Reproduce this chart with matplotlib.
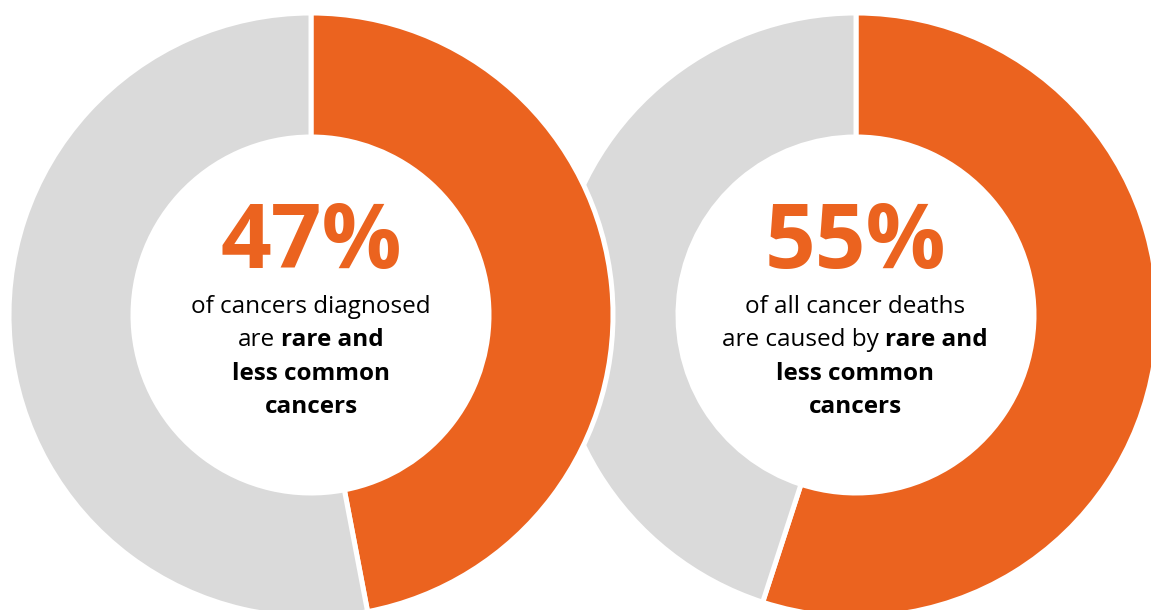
import matplotlib
matplotlib.use("Agg")
import matplotlib.pyplot as plt

plt.rcParams['font.family'] = ['Open Sans', 'DejaVu Sans']

# -------------------------------------------------------------
# Data
# -------------------------------------------------------------
shares_diagnosed = [47, 53]   # rare & less common, other
shares_deaths = [55, 45]
big_labels = ["47%", "55%"]
caption_left = [
    [("of cancers diagnosed", "normal")],
    [("are", "normal"), ("rare and", "bold")],
    [("less common", "bold")],
    [("cancers", "bold")],
]
caption_right = [
    [("of all cancer deaths", "normal")],
    [("are caused by", "normal"), ("rare and", "bold")],
    [("less common", "bold")],
    [("cancers", "bold")],
]

ORANGE = "#EB631F"
GREY = "#DADADA"

# -------------------------------------------------------------
# Figure: one axes, 1 data unit = 1 pixel
# -------------------------------------------------------------
W, H = 1151, 610
fig = plt.figure(figsize=(W / 100, H / 100), dpi=100)
ax = fig.add_axes([0, 0, 1, 1])

R = 302
ring = 124
c_left = (311, 295)
c_right = (856, 295)

# right ring first so the left one sits on top of it
for shares, c in [(shares_deaths, c_right), (shares_diagnosed, c_left)]:
    ax.pie(shares, colors=[ORANGE, GREY], startangle=90, counterclock=False,
           radius=R, center=c,
           wedgeprops=dict(width=ring, edgecolor="white", linewidth=3.6))

ax.set_xlim(0, W)
ax.set_ylim(0, H)
ax.set_aspect("equal")
ax.axis("off")

renderer = fig.canvas.get_renderer()


def draw_line(cx, y, parts, size):
    texts = [ax.text(0, y, s, fontsize=size, fontweight=w, va="baseline",
                     ha="left", color="black") for s, w in parts]
    widths = [t.get_window_extent(renderer).width for t in texts]
    space = size * 100 / 72 * 0.26
    total = sum(widths) + space * (len(texts) - 1)
    x = cx - total / 2
    for t, wd in zip(texts, widths):
        t.set_x(x)
        x += wd + space


for cx, big, lines in [(311, big_labels[0], caption_left),
                       (855, big_labels[1], caption_right)]:
    ax.text(cx, H - 268, big, fontsize=64, fontweight="bold", color=ORANGE,
            ha="center", va="baseline")
    for i, parts in enumerate(lines):
        draw_line(cx, H - (313 + 33.3 * i), parts, 17.5)

fig.savefig("out.png", dpi=100)
